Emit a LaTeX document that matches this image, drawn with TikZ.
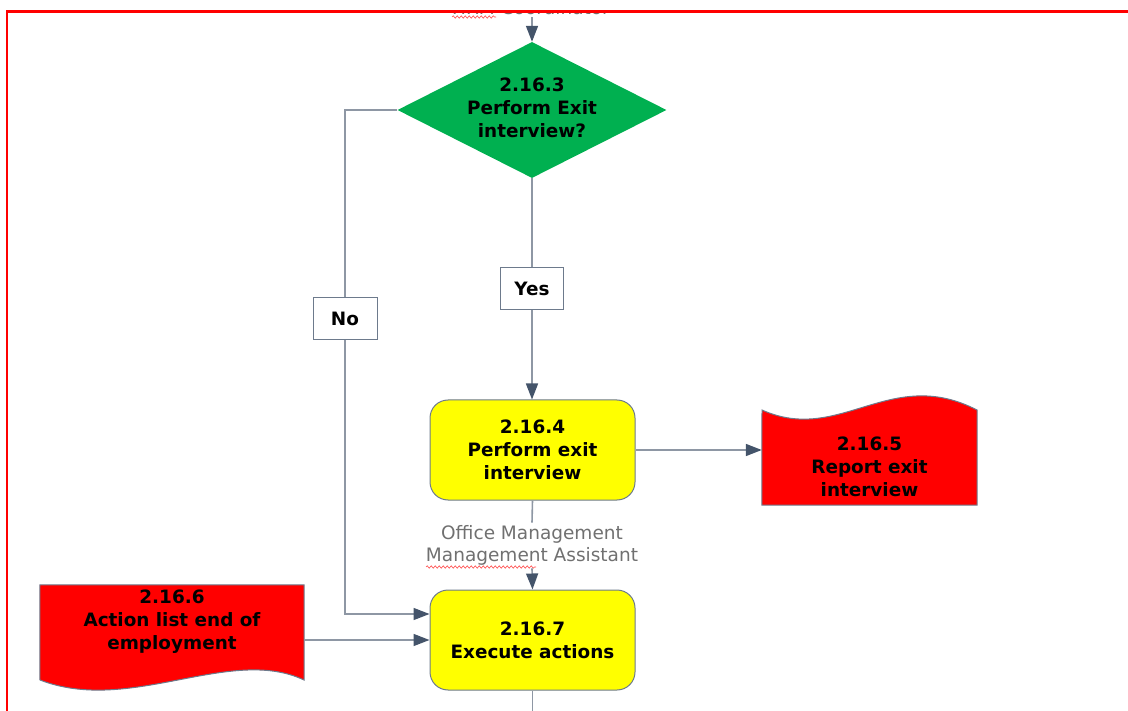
\documentclass[tikz,border=0pt]{standalone}
\usepackage{fontspec}
\setmainfont{DejaVu Sans}
\usetikzlibrary{shapes.geometric,arrows.meta,decorations.pathmorphing}

\definecolor{framered}{HTML}{FF0000}
\definecolor{decgreen}{HTML}{00B050}
\definecolor{procyellow}{HTML}{FFFF00}
\definecolor{docred}{HTML}{FF0000}
\definecolor{wire}{HTML}{8E97A4}
\definecolor{tipcol}{HTML}{44546A}
\definecolor{rim}{HTML}{6D7A8C}
\definecolor{roletext}{HTML}{707070}

\tikzset{
  boldtext/.style={font=\fontsize{18.4}{23}\selectfont\bfseries, align=center, text=black},
  roletxt/.style={font=\fontsize{18.5}{21.5}\selectfont, align=center, text=roletext},
  decision/.style={diamond, draw=none, fill=decgreen, inner sep=0pt,
    minimum width=269pt, minimum height=136pt},
  process/.style={boldtext, rectangle, rounded corners=18pt, draw=rim, line width=1pt,
    fill=procyellow, minimum width=205pt, minimum height=100pt, inner sep=0pt},
  tag/.style={boldtext, rectangle, draw=rim, line width=1pt, fill=white, inner sep=0pt},
  docarea/.style={rectangle, draw=none, inner sep=0pt},
  docrim/.style={draw=rim, line width=1pt, fill=docred},
  conn/.style={draw=wire, line width=1.6pt},
  arr/.style={conn, -{Triangle[length=16pt,width=12pt,color=tipcol]}},
  squiggle/.style={draw=red!70, line width=0.6pt, decorate,
    decoration={snake, segment length=4pt, amplitude=1.2pt}},
}

\begin{document}
\begin{tikzpicture}[x=1pt, y=-1pt]
\useasboundingbox (0,0) rectangle (1128,711);

% role of the step above, cut off by the frame
\begin{scope}
  \clip (0,13) rectangle (1128,711);
  \node[roletxt, anchor=base, inner sep=2pt] (coord) at (531,15) {HRM Coordinator};
  \draw[squiggle] (452,17) -- (496,17);
\end{scope}

% decision
\node[decision] (d3) at (532,110) {};
\node[boldtext, inner sep=0pt] (d3t) at (532,108) {2.16.3\\Perform Exit\\interview?};

% labels on the two branches
\node[tag, minimum width=63pt, minimum height=42pt] (yes) at (532,289) {Yes};
\node[tag, minimum width=64pt, minimum height=42pt] (no) at (345,319) {No};

% processes
\node[process] (p4) at (532.5,450) {2.16.4\\Perform exit\\interview};
\node[process] (p7) at (532.5,640) {2.16.7\\Execute actions};

% role label between the processes
\node[roletxt, inner sep=3pt] (om) at (532,545.5) {Office Management\\Management Assistant};
\draw[squiggle] (426,567) -- (536,567);

% document 2.16.5 (wavy top)
\node[docarea, minimum width=215pt, minimum height=105pt] (r5) at (869.5,452.5) {};
\path[docrim] (r5.south west) -- (762,410)
  .. controls (840,445) and (890,365) .. (977,410) -- (r5.south east) -- cycle;
\node[boldtext, inner sep=0pt] (r5t) at (869.5,467) {2.16.5\\Report exit\\interview};

% document 2.16.6 (wavy bottom)
\node[docarea, minimum width=264pt, minimum height=95pt] (r6) at (172,632.5) {};
\path[docrim] (r6.north west) -- (r6.north east) -- (304,680)
  .. controls (230,645) and (130,715) .. (40,680) -- cycle;
\node[boldtext, inner sep=0pt] (r6t) at (172,622) {2.16.6\\Action list end of\\employment};

% connectors
\draw[arr] (coord.south -| d3.north) -- (d3.north);
\draw[conn] (d3.south) -- (yes.north);
\draw[arr] (yes.south) -- (yes.south |- p4.north);
\draw[conn] (d3.west) -| (no.north);
\draw[arr] (no.south) |- ([yshift=26pt]p7.west);
\draw[arr] (p4.east) -- (r5.west |- p4.east);
\draw[conn] (p4.south) -- (om.north);
\draw[arr] (om.south) -- (p7.north);
\draw[arr] (r6.east |- p7.west) -- (p7.west);
\coordinate (exit) at (532.5,711);
\draw[conn] (p7.south) -- (exit);

% frame
\draw[framered, line width=2.6pt] (1128,11.5) -- (7,11.5) -- (7,711);
\end{tikzpicture}
\end{document}
